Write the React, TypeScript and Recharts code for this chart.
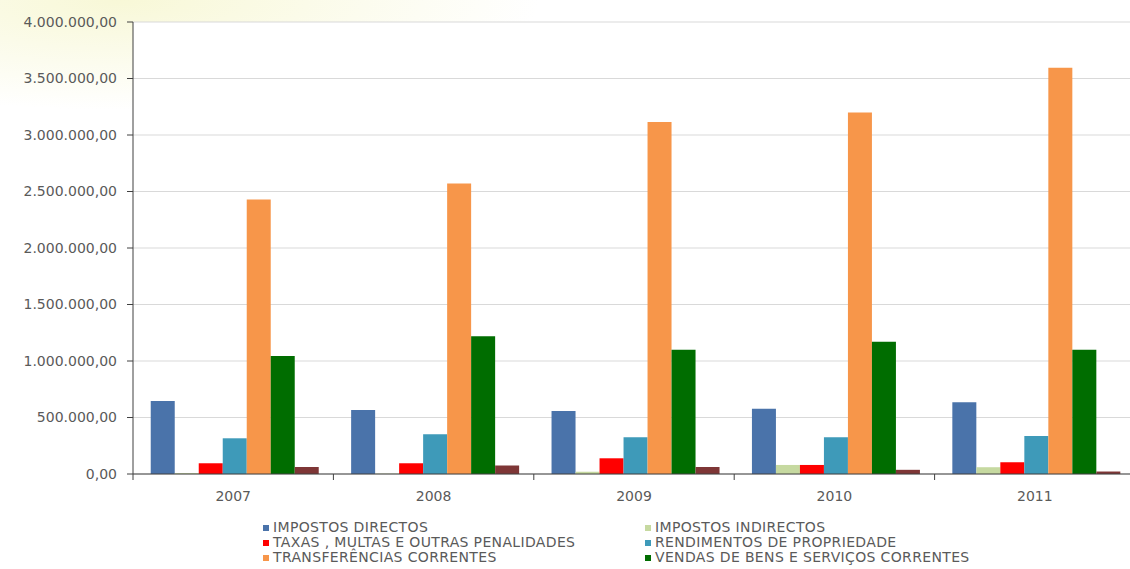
import React from 'react';
import { BarChart, Bar, XAxis, YAxis, CartesianGrid, Legend } from 'recharts';

const years = ['2007', '2008', '2009', '2010', '2011'];
const impostosDirectos = [645000, 566000, 557000, 578000, 635000];
const impostosIndirectos = [8000, 3000, 20000, 80000, 60000];
const taxasMultas = [95000, 95000, 139000, 80000, 105000];
const rendimentos = [316000, 351000, 325000, 325000, 336000];
const transferencias = [2430000, 2570000, 3115000, 3200000, 3595000];
const vendas = [1045000, 1220000, 1100000, 1170000, 1100000];
const outras = [62000, 75000, 62000, 37000, 22000];
const yTicks = [0, 500000, 1000000, 1500000, 2000000, 2500000, 3000000, 3500000, 4000000];

const series = [
  { key: 'dir', name: 'IMPOSTOS DIRECTOS', color: '#4a73aa', values: impostosDirectos, legend: true },
  { key: 'ind', name: 'IMPOSTOS INDIRECTOS', color: '#c6d9a0', values: impostosIndirectos, legend: true },
  { key: 'tax', name: 'TAXAS , MULTAS E OUTRAS PENALIDADES', color: '#ff0000', values: taxasMultas, legend: true },
  { key: 'ren', name: 'RENDIMENTOS DE PROPRIEDADE', color: '#3e9ab9', values: rendimentos, legend: true },
  { key: 'tra', name: 'TRANSFERÊNCIAS CORRENTES', color: '#f7964a', values: transferencias, legend: true },
  { key: 'ven', name: 'VENDAS DE BENS E SERVIÇOS CORRENTES', color: '#006d00', values: vendas, legend: true },
  { key: 'out', name: 'OUTRAS', color: '#7e3636', values: outras, legend: false },
];

const data = years.map((year, i) => {
  const row: any = { year };
  series.forEach((s) => (row[s.key] = s.values[i]));
  return row;
});

const fmt = (v: number) => {
  const [int, dec] = v.toFixed(2).split('.');
  return int.replace(/\B(?=(\d{3})+(?!\d))/g, '.') + ',' + dec;
};

const FONT = '"DejaVu Sans", sans-serif';
const TEXT = '#5a5a5a';

// year label in the middle, tick mark on the left edge of each category
const YearTick = (props: any) => {
  const { x, y, payload } = props;
  const half = payload.offset || 0;
  return (
    <g>
      <line x1={x - half} x2={x - half} y1={y} y2={y + 6} stroke="#404040" />
      <text x={x} y={y + 27} textAnchor="middle" fill={TEXT} fontSize={14} fontFamily={FONT}>
        {payload.value}
      </text>
    </g>
  );
};

const LegendBox = () => (
  <div
    style={{
      display: 'grid',
      gridTemplateColumns: '382px 360px',
      fontFamily: FONT,
      fontSize: 14,
      letterSpacing: 0.35,
      color: TEXT,
      lineHeight: '15px',
    }}
  >
    {series
      .filter((s) => s.legend)
      .map((s) => (
        <div key={s.key} style={{ display: 'flex', alignItems: 'center', whiteSpace: 'nowrap' }}>
          <span style={{ width: 6, height: 6, background: s.color, marginRight: 4, display: 'inline-block' }} />
          {s.name}
        </div>
      ))}
  </div>
);

export default function App() {
  return (
    <div
      style={{
        position: 'absolute',
        left: 0,
        top: 0,
        width: 1130,
        height: 569,
        overflow: 'hidden',
        background: 'radial-gradient(ellipse 420px 110px at 120px 0px, rgba(246,246,205,0.8), rgba(255,255,255,0) 100%), #fff',
      }}
    >
      <BarChart
        width={1140}
        height={569}
        data={data}
        margin={{ top: 22, right: 5, left: 0, bottom: 65 }}
        barCategoryGap="8.85%"
        barGap={0}
      >
        <CartesianGrid vertical={false} stroke="#d9d9d9" fill="#fff" />
        <XAxis
          dataKey="year"
          height={30}
          axisLine={{ stroke: '#404040' }}
          tickLine={false}
          tickSize={0}
          tickMargin={0}
          tick={<YearTick />}
          interval={0}
        />
        <YAxis
          width={133}
          domain={[0, 4000000]}
          ticks={yTicks}
          tickFormatter={fmt}
          axisLine={{ stroke: '#404040' }}
          tickLine={{ stroke: '#404040' }}
          tickSize={6}
          tickMargin={10}
          tick={{ fill: TEXT, fontSize: 14, fontFamily: FONT }}
        />
        <Legend
          layout="horizontal"
          verticalAlign="middle"
          align="center"
          content={<LegendBox />}
          wrapperStyle={{ left: 263, top: 520, width: 760 }}
        />
        {series.map((s) => (
          <Bar key={s.key} dataKey={s.key} name={s.name} fill={s.color} isAnimationActive={false} />
        ))}
      </BarChart>
    </div>
  );
}
